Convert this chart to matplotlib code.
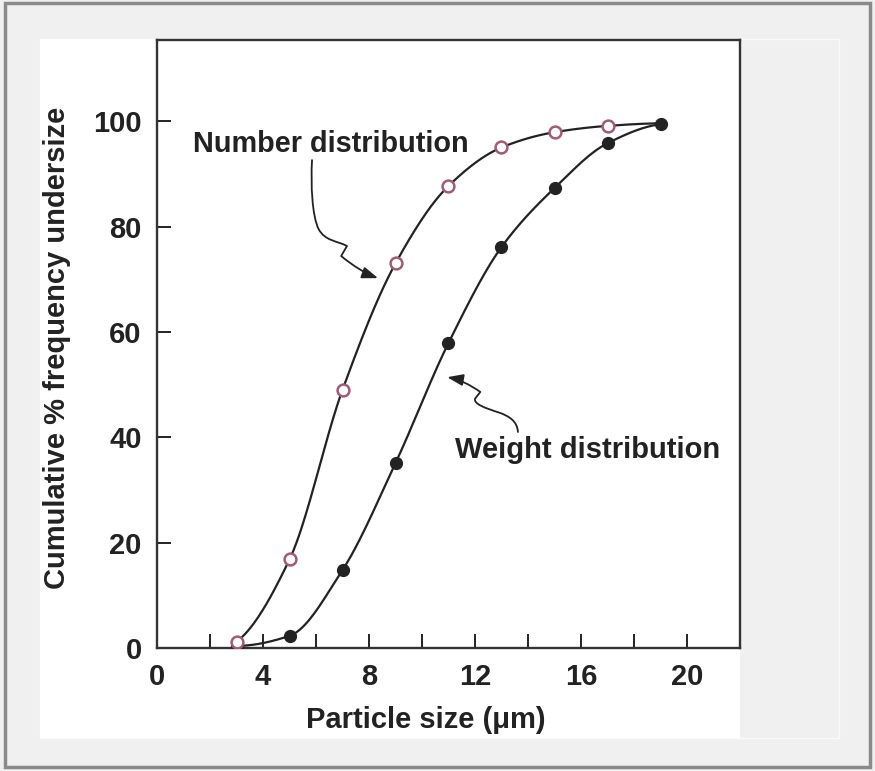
import numpy as np
import matplotlib
matplotlib.use("Agg")
import matplotlib.pyplot as plt
from matplotlib.patches import Rectangle, FancyArrowPatch
from matplotlib.path import Path

# particle size (um) and cumulative % undersize
size_um = [3, 5, 7, 9, 11, 13, 15, 17, 19]
number_pct = [1.2, 16.8, 49.0, 73.0, 87.7, 95.0, 97.9, 99.1, 99.6]
weight_pct = [0.4, 2.3, 14.8, 35.1, 57.9, 76.1, 87.3, 95.8, 99.4]

x_ticks = [0, 2, 4, 6, 8, 10, 12, 14, 16, 18, 20]
x_labels = ["0", "", "4", "", "8", "", "12", "", "16", "", "20"]
y_ticks = [0, 20, 40, 60, 80, 100]

plt.rcParams['font.family'] = ['Liberation Sans', 'DejaVu Sans']
plt.rcParams['font.weight'] = 'bold'
plt.rcParams['axes.labelweight'] = 'bold'

INK = '#222222'


def pchip(x, y, xs):
    """Monotone cubic curve through the points (hand drawn look)."""
    x = np.asarray(x, float)
    y = np.asarray(y, float)
    h = np.diff(x)
    d = np.diff(y) / h
    m = np.zeros_like(y)
    for k in range(1, len(x) - 1):
        if d[k - 1] * d[k] > 0:
            w1 = 2 * h[k] + h[k - 1]
            w2 = h[k] + 2 * h[k - 1]
            m[k] = (w1 + w2) / (w1 / d[k - 1] + w2 / d[k])
    m[0] = ((2 * h[0] + h[1]) * d[0] - h[0] * d[1]) / (h[0] + h[1])
    if np.sign(m[0]) != np.sign(d[0]):
        m[0] = 0
    m[-1] = ((2 * h[-1] + h[-2]) * d[-1] - h[-1] * d[-2]) / (h[-1] + h[-2])
    if np.sign(m[-1]) != np.sign(d[-1]):
        m[-1] = 0
    idx = np.clip(np.searchsorted(x, xs) - 1, 0, len(x) - 2)
    t = (xs - x[idx]) / h[idx]
    h00 = 2 * t**3 - 3 * t**2 + 1
    h10 = t**3 - 2 * t**2 + t
    h01 = -2 * t**3 + 3 * t**2
    h11 = t**3 - t**2
    return (h00 * y[idx] + h10 * h[idx] * m[idx]
            + h01 * y[idx + 1] + h11 * h[idx] * m[idx + 1])


fig = plt.figure(figsize=(8.75, 7.71), dpi=100, facecolor='#f0f0f0')

# scanned page look: white panel + grey frame (behind the axes)
fig.patches.append(Rectangle((40 / 875, 1 - 738 / 771), 799 / 875, 699 / 771,
                             transform=fig.transFigure, facecolor='none',
                             edgecolor='#fafafa', linewidth=1, zorder=-5))
fig.patches.append(Rectangle((40 / 875, 1 - 738 / 771), 700 / 875, 699 / 771,
                             transform=fig.transFigure, facecolor='white',
                             edgecolor='none', zorder=-5))
fig.patches.append(Rectangle((5 / 875, 1 - 767 / 771), 865 / 875, 764 / 771,
                             transform=fig.transFigure, facecolor='none',
                             edgecolor='#8a8a8a', linewidth=2.5, zorder=-5))

ax = fig.add_axes([157 / 875, 1 - 648 / 771, 583 / 875, 608 / 771])
ax.set_facecolor('white')

xs = np.linspace(size_um[0], size_um[-1], 300)
ax.plot(xs, pchip(size_um, number_pct, xs), color=INK, lw=1.6, zorder=2)
ax.plot(xs, pchip(size_um, weight_pct, xs), color=INK, lw=1.6, zorder=2)

ax.plot(size_um, weight_pct, 'o', color=INK, markersize=8.5, zorder=3)
ax.plot(size_um[:-1], number_pct[:-1], 'o', markerfacecolor='white',
        markeredgecolor='#a35a73', markeredgewidth=1.8, markersize=8.5, zorder=4)

ax.set_xlim(0, 22)
ax.set_ylim(0, 115.4)
ax.set_xticks(x_ticks)
ax.set_xticklabels(x_labels)
ax.set_yticks(y_ticks)
ax.tick_params(direction='in', length=10, width=1.4, color=INK,
               labelsize=21, labelcolor=INK, pad=11)
for s in ax.spines.values():
    s.set_linewidth(1.7)
    s.set_color('#333333')

ax.set_xlabel('Particle size (\u03bcm)', fontsize=21, color=INK)
ax.set_ylabel('Cumulative % frequency undersize', fontsize=21, color=INK)
ax.xaxis.set_label_coords(0.461, -0.095)
ax.yaxis.set_label_coords(-0.148, 0.493)

# labels with squiggly pointer arrows
ax.text(1.36, 94.1, 'Number distribution', fontsize=20.8, color=INK,
        ha='left', va='baseline')
ax.text(11.25, 36.05, 'Weight distribution', fontsize=21, color=INK,
        ha='left', va='baseline')

num_path = Path([(5.85, 92.6), (5.80, 88.0), (5.85, 82.0), (6.10, 79.5),
                 (6.35, 77.2), (6.80, 77.3), (7.17, 76.3),
                 (6.95, 74.4),
                 (7.40, 72.5), (7.90, 71.0), (8.34, 70.2)],
                [Path.MOVETO, Path.CURVE4, Path.CURVE4, Path.CURVE4,
                 Path.CURVE4, Path.CURVE4, Path.CURVE4,
                 Path.LINETO,
                 Path.CURVE4, Path.CURVE4, Path.CURVE4])
wt_path = Path([(13.62, 41.0), (13.60, 43.0), (13.30, 44.0), (12.90, 44.7),
                (12.40, 45.5), (11.95, 46.3), (12.00, 47.3),
                (12.20, 48.6),
                (11.80, 50.0), (11.40, 51.0), (10.95, 51.4)],
               [Path.MOVETO, Path.CURVE4, Path.CURVE4, Path.CURVE4,
                Path.CURVE4, Path.CURVE4, Path.CURVE4,
                Path.LINETO,
                Path.CURVE4, Path.CURVE4, Path.CURVE4])
for p in (num_path, wt_path):
    ax.add_patch(FancyArrowPatch(path=p,
                                 arrowstyle='-|>,head_length=0.6,head_width=0.22',
                                 mutation_scale=16, color=INK, lw=1.3,
                                 shrinkA=0, shrinkB=0, zorder=5))

fig.savefig('out.png', dpi=100, facecolor=fig.get_facecolor())
